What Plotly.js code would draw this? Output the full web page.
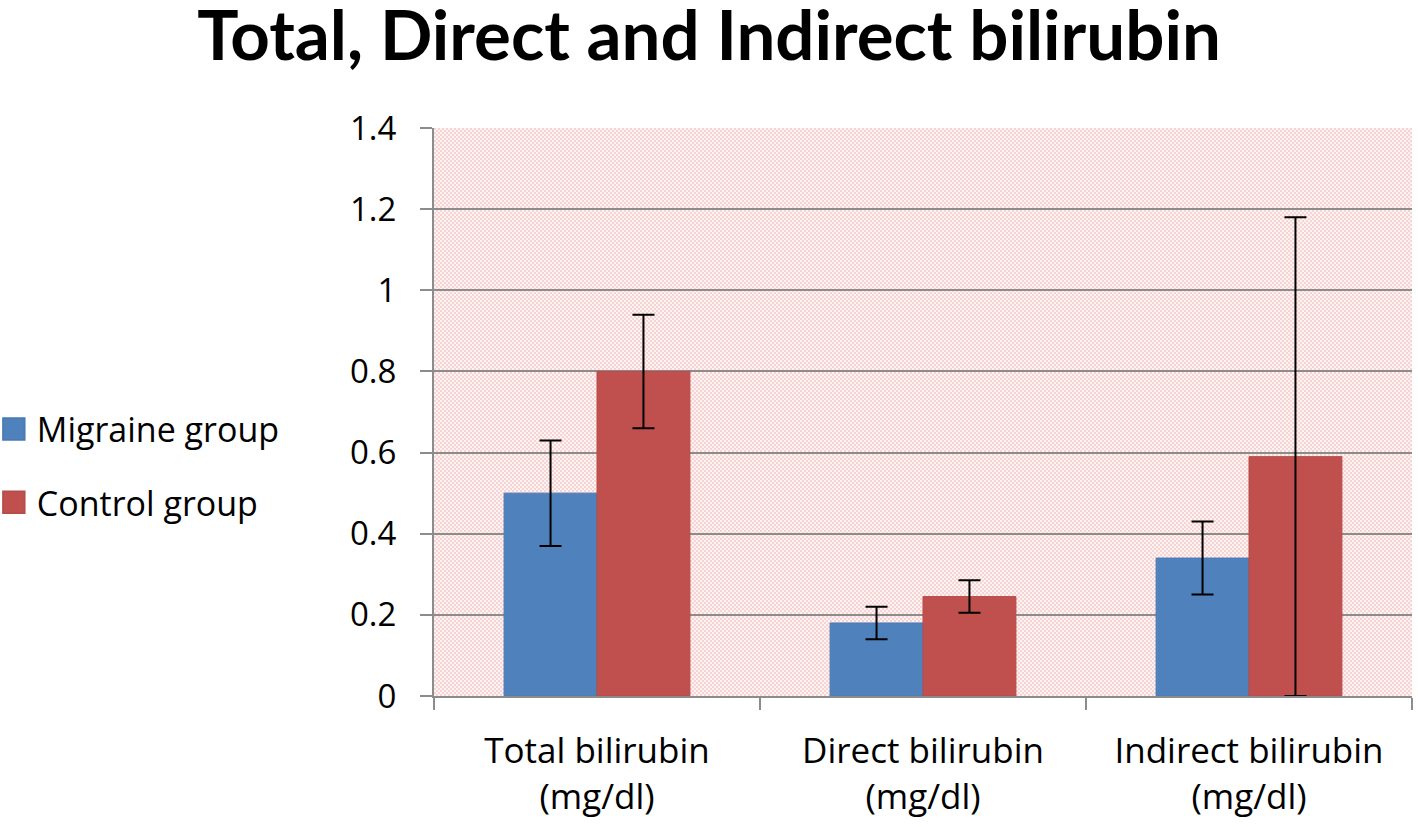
<!DOCTYPE html>
<html>
<head>
<meta charset="utf-8">
<script src="https://cdn.plot.ly/plotly-3.0.1.min.js"></script>
<style>html,body{margin:0;padding:0;background:#fff;}#chart{width:1418px;height:827px;}</style>
</head>
<body>
<div id="chart"></div>
<script>
// Data
const categories = ["Total bilirubin<br>(mg/dl)", "Direct bilirubin<br>(mg/dl)", "Indirect bilirubin<br>(mg/dl)"];
const migraineValues = [0.50, 0.18, 0.34];
const migraineErrors = [0.13, 0.04, 0.09];
const controlValues = [0.80, 0.245, 0.59];
const controlErrors = [0.14, 0.04, 0.59];
const yTickVals = [0, 0.2, 0.4, 0.6, 0.8, 1, 1.2, 1.4];
const yTickText = ["0", "0.2", "0.4", "0.6", "0.8", "1", "1.2", "1.4"];

const FONT = "'Open Sans', Lato, sans-serif";
const TITLE_FONT = "Lato, 'Open Sans', sans-serif";

// background checker pattern for plot area
const patternSvg = '<svg xmlns="http://www.w3.org/2000/svg" width="978" height="568" viewBox="0 0 978 568" preserveAspectRatio="none">' +
  '<defs><pattern id="p" width="4" height="4" patternUnits="userSpaceOnUse">' +
  '<rect width="4" height="4" fill="rgb(253,243,243)"/>' +
  '<rect x="0" y="0" width="2" height="2" fill="rgb(247,212,212)"/>' +
  '<rect x="2" y="2" width="2" height="2" fill="rgb(247,212,212)"/>' +
  '</pattern></defs><rect width="978" height="568" fill="url(#p)"/></svg>';
const patternUrl = 'data:image/svg+xml;base64,' + btoa(patternSvg);

const errStyle = {type: 'data', visible: true, color: '#000000', thickness: 2, width: 11};

const traces = [
  {
    type: 'bar', name: 'Migraine group', x: categories, y: migraineValues,
    error_y: Object.assign({array: migraineErrors}, errStyle),
    marker: {color: '#4f81bd', line: {color: '#4a7ab5', width: 1}},
    legendgroup: 'a'
  },
  {
    type: 'bar', name: 'Control group', x: categories, y: controlValues,
    error_y: Object.assign({array: controlErrors}, errStyle),
    marker: {color: '#c0504d', line: {color: '#b84b48', width: 1}},
    legendgroup: 'b'
  }
];

const layout = {
  width: 1418, height: 827,
  margin: {l: 434, r: 6, t: 128, b: 131, autoexpand: false},
  paper_bgcolor: '#ffffff',
  plot_bgcolor: 'rgba(0,0,0,0)',
  font: {family: FONT, size: 34, color: '#000000'},
  title: {
    text: '<b>Total, Direct and Indirect bilirubin</b>',
    font: {family: TITLE_FONT, size: 69, color: '#000000'},
    x: 0.5, xref: 'container', xanchor: 'center',
    y: 0.957, yref: 'container', yanchor: 'middle'
  },
  barmode: 'group',
  bargap: 0.43,
  bargroupgap: 0,
  showlegend: true,
  legend: {
    x: -0.447, xanchor: 'left', xref: 'paper',
    y: 0.405, yanchor: 'middle', yref: 'paper',
    font: {family: FONT, size: 34, color: '#000000'},
    tracegroupgap: 26,
    bgcolor: 'rgba(0,0,0,0)'
  },
  xaxis: {
    type: 'category',
    showline: true, linecolor: '#8c8c8c', linewidth: 2,
    ticks: 'outside', tickson: 'boundaries', ticklen: 12, tickcolor: '#8c8c8c', tickwidth: 2,
    showgrid: false, zeroline: false,
    tickfont: {family: FONT, size: 35, color: '#000000'},
    ticklabelstandoff: 23
  },
  yaxis: {
    range: [0, 1.4], autorange: false,
    tickmode: 'array', tickvals: yTickVals, ticktext: yTickText,
    showline: true, linecolor: '#8c8c8c', linewidth: 2,
    ticks: 'outside', ticklen: 12, tickcolor: '#8c8c8c', tickwidth: 2,
    showgrid: true, gridcolor: '#8c8c8c', gridwidth: 2,
    zeroline: false,
    tickfont: {family: FONT, size: 33, color: '#000000'},
    ticklabelstandoff: 17
  },
  images: [{
    source: patternUrl, xref: 'paper', yref: 'paper',
    x: 0, y: 1, sizex: 1, sizey: 1, xanchor: 'left', yanchor: 'top',
    sizing: 'stretch', layer: 'below'
  }]
};

Plotly.newPlot('chart', traces, layout, {displayModeBar: false, staticPlot: true}).then(function () {
  document.querySelectorAll('.legend .legendpoints path').forEach(function (p) {
    p.setAttribute('transform', 'translate(17,0) scale(1.8)');
  });
});
</script>
</body>
</html>
